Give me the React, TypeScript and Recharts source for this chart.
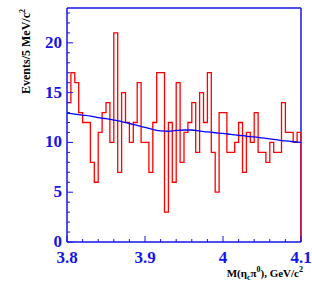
import { ComposedChart, Line, XAxis, YAxis, ReferenceLine } from 'recharts';

// 5 MeV bins from 3.8 to 4.1 GeV
const binStart = 3.8;
const binWidth = 0.005;
const counts = [
  14, 17, 16, 13, 12, 12, 8, 6, 11, 13,
  14, 10, 21, 7, 15, 12, 10, 12, 16, 10,
  10, 7, 12, 17, 17, 3, 12, 6, 16, 8,
  11, 12, 14, 9, 15, 12, 17, 9, 5, 13,
  13, 9, 9, 10, 12, 7, 11, 10, 13, 9,
  9, 8, 10, 9, 9, 14, 11, 11, 10, 11,
];

// fitted background curve
const fitMass = [
  3.8, 3.81, 3.82, 3.83, 3.84, 3.85, 3.86, 3.87, 3.88, 3.89, 3.9,
  3.91, 3.92, 3.93, 3.94, 3.95, 3.96, 3.97, 3.98, 3.99, 4.0,
  4.01, 4.02, 4.03, 4.04, 4.05, 4.06, 4.07, 4.08, 4.09, 4.1,
];
const fitValues = [
  12.95, 12.85, 12.75, 12.65, 12.5, 12.38, 12.25, 12.1, 11.9, 11.72, 11.5,
  11.3, 11.15, 11.12, 11.2, 11.25, 11.25, 11.15, 11.05, 10.97, 10.9,
  10.8, 10.72, 10.62, 10.55, 10.45, 10.35, 10.25, 10.15, 10.07, 10.0,
];

const xMajorTicks = [3.8, 3.9, 4.0, 4.1];
const xTickLabels = ['3.8', '3.9', '4', '4.1'];
const yMajorTicks = [0, 5, 10, 15, 20];
const yTickLabels = ['0', '5', '10', '15', '20'];

const xMin = 3.8;
const xMax = 4.1;
const yMax = 23.5;

const AXIS = '#1414e6';
const FONT = '"Liberation Serif", "DejaVu Serif", serif';

const xTicks: number[] = [];
for (let i = 0; i <= 15; i++) xTicks.push(Math.round((xMin + i * 0.02) * 1000) / 1000);
const yTicks: number[] = [];
for (let i = 0; i <= 23; i++) yTicks.push(i);

const histData = counts.map((n, i) => ({ x: binStart + i * binWidth, n }));
histData.push({ x: xMax, n: counts[counts.length - 1] });
histData.push({ x: xMax, n: 0 });

const fitData = fitMass.map((x, i) => ({ x, f: fitValues[i] }));

function XTick(props: any) {
  const { x, y, payload } = props;
  const idx = xMajorTicks.findIndex((t) => Math.abs(t - payload.value) < 1e-6);
  const major = idx >= 0;
  return (
    <g>
      <line x1={x} x2={x} y1={y} y2={y - (major ? 6 : 3)} stroke={AXIS} strokeWidth={1} />
      {major && (
        <text x={x} y={y + 21} textAnchor="middle" fill={AXIS} fontFamily={FONT} fontWeight="bold" fontSize={17}>
          {xTickLabels[idx]}
        </text>
      )}
    </g>
  );
}

function YTick(props: any) {
  const { x, y, payload } = props;
  const idx = yMajorTicks.indexOf(payload.value);
  const major = idx >= 0;
  return (
    <g>
      <line x1={x} x2={x + (major ? 6 : 3)} y1={y} y2={y} stroke={AXIS} strokeWidth={1} />
      {major && (
        <text x={x - 5} y={y + 5} textAnchor="end" fill={AXIS} fontFamily={FONT} fontWeight="bold" fontSize={17}>
          {yTickLabels[idx]}
        </text>
      )}
    </g>
  );
}

export default function App() {
  return (
    <div style={{ position: 'absolute', left: 0, top: 0, width: 312, height: 282, background: '#fff' }}>
      <ComposedChart width={312} height={282} margin={{ top: 8, right: 11, bottom: 0, left: 0 }}>
        <XAxis
          type="number"
          dataKey="x"
          domain={[xMin, xMax]}
          ticks={xTicks}
          interval={0}
          tickSize={0}
          tickMargin={0}
          height={40}
          allowDataOverflow
          axisLine={{ stroke: AXIS, strokeWidth: 1.5 }}
          tickLine={false}
          tick={<XTick />}
        />
        <YAxis
          type="number"
          domain={[0, yMax]}
          ticks={yTicks}
          interval={0}
          tickSize={0}
          tickMargin={0}
          width={67}
          allowDataOverflow
          axisLine={{ stroke: AXIS, strokeWidth: 1.5 }}
          tickLine={false}
          tick={<YTick />}
        />
        <ReferenceLine y={yMax} stroke={AXIS} strokeWidth={1.5} />
        <ReferenceLine x={xMax} stroke={AXIS} strokeWidth={1.5} />
        <Line
          data={histData}
          dataKey="n"
          type="stepAfter"
          stroke="#ff0000"
          strokeWidth={1.3}
          dot={false}
          activeDot={false}
          isAnimationActive={false}
        />
        <Line
          data={fitData}
          dataKey="f"
          type="monotone"
          stroke="#0000ff"
          strokeWidth={1.3}
          dot={false}
          activeDot={false}
          isAnimationActive={false}
        />
      </ComposedChart>
      <svg width={312} height={282} style={{ position: 'absolute', left: 0, top: 0, pointerEvents: 'none' }}>
        <text transform="translate(30,9) rotate(-90)" textAnchor="end" fontFamily={FONT} fontWeight="bold" fontSize={12} fill="#000">
          Events/5 MeV/c<tspan dy={-5} fontSize={8}>2</tspan>
        </text>
        <text x={303} y={277} textAnchor="end" fontFamily={FONT} fontWeight="bold" fontSize={11} fill="#000">
          M(η<tspan dy={3} fontSize={8}>c</tspan>
          <tspan dy={-3}>π</tspan>
          <tspan dy={-5} fontSize={8}>0</tspan>
          <tspan dy={5}>), GeV/c</tspan>
          <tspan dy={-5} fontSize={8}>2</tspan>
        </text>
      </svg>
    </div>
  );
}
